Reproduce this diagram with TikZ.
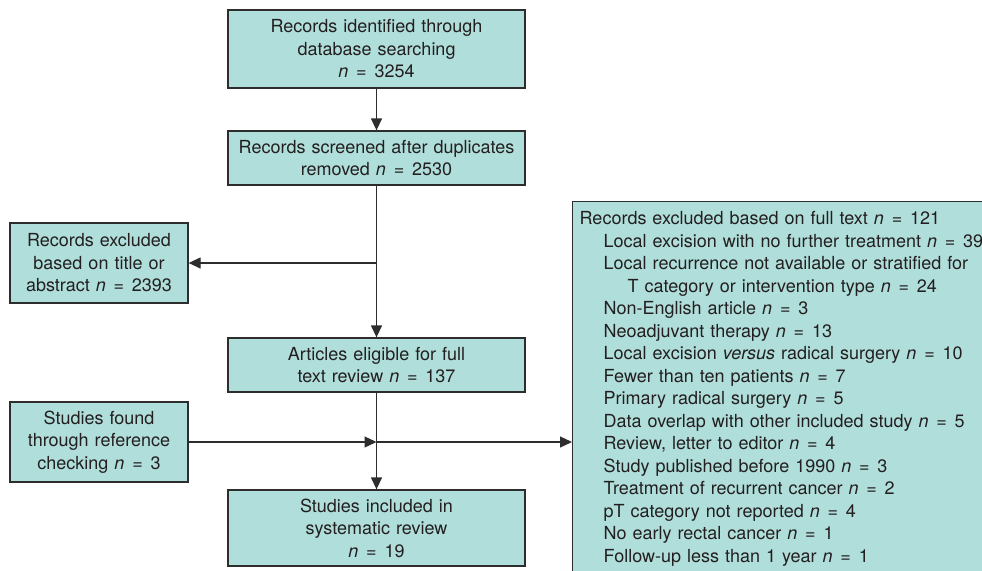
\documentclass[tikz,border=0pt]{standalone}
\usepackage{fontspec}
\setmainfont{TeX Gyre Heros}
\usetikzlibrary{shapes, arrows.meta, positioning}
\definecolor{boxfill}{RGB}{176,222,218}
\definecolor{boxline}{RGB}{45,45,45}
\definecolor{textcol}{RGB}{35,31,32}
\tikzstyle{block}=[draw=boxline,fill=boxfill,rectangle,line width=1.3pt,align=center,inner xsep=4pt]
\tikzstyle{mainblock}=[block,text width=289pt]
\tikzstyle{sideblock}=[block,text width=170pt,minimum height=80pt]
\tikzstyle{line}=[draw=boxline,line width=1.3pt]
\tikzstyle{every node}=[font=\fontsize{18}{22.5}\selectfont,text=textcol]
\newcommand{\nn}{\textit{n}}
\newcommand{\eq}{\hspace{0.1em}=\hspace{0.1em}}
\newcommand{\ind}{\hspace*{24pt}}

\begin{document}
\begin{tikzpicture}[>={Triangle[length=12pt,width=11pt]}, x=1pt, y=-1pt]
    \useasboundingbox (0,0) rectangle (982,570);
    \node[mainblock, minimum height=78pt] (ident) at (376.5,49) {Records identified through\\database searching\\\nn{} \eq{} 3254};
    \node[mainblock, minimum height=54pt, below of=ident, node distance=109pt] (screen) {Records screened after duplicates\\removed \nn{} \eq{} 2530};
    \node[mainblock, minimum height=54pt, below of=screen, node distance=207pt] (elig) {Articles eligible for full\\text review \nn{} \eq{} 137};
    \node[mainblock, minimum height=76pt, below of=elig, node distance=163pt] (incl) {Studies included in\\systematic review\\\nn{} \eq{} 19};
    \coordinate[below of=screen, node distance=105pt] (split);
    \coordinate[below of=elig, node distance=77pt] (join);
    \node[sideblock, left of=split, node distance=277.5pt] (extitle) {Records excluded\\based on title or\\abstract \nn{} \eq{} 2393};
    \node[sideblock, left of=join, node distance=277.5pt] (refs) {Studies found\\through reference\\checking \nn{} \eq{} 3};
    % box runs past the right and bottom edges
    \node[block, align=left, anchor=north west, inner xsep=7pt, inner ysep=5pt, text width=470pt, minimum height=420pt, text depth=0pt] (exfull) at (572,201) {\vbox to 400pt{\hsize=470pt\parindent=0pt\baselineskip=22.5pt Records excluded based on full text \nn{} \eq{} 121\\
        \ind Local excision with no further treatment \nn{} \eq{} 39\\
        \ind Local recurrence not available or stratified for\\
        \ind\ind T category or intervention type \nn{} \eq{} 24\\
        \ind Non-English article \nn{} \eq{} 3\\
        \ind Neoadjuvant therapy \nn{} \eq{} 13\\
        \ind Local excision \textit{versus} radical surgery \nn{} \eq{} 10\\
        \ind Fewer than ten patients \nn{} \eq{} 7\\
        \ind Primary radical surgery \nn{} \eq{} 5\\
        \ind Data overlap with other included study \nn{} \eq{} 5\\
        \ind Review, letter to editor \nn{} \eq{} 4\\
        \ind Study published before 1990 \nn{} \eq{} 3\\
        \ind Treatment of recurrent cancer \nn{} \eq{} 2\\
        \ind pT category not reported \nn{} \eq{} 4\\
        \ind No early rectal cancer \nn{} \eq{} 1\\
        \ind Follow-up less than 1 year \nn{} \eq{} 1\vfill}};
    \draw[line,->] (ident) -- (screen);
    \draw[line,->] (screen) -- (elig);
    \draw[line,->] (split) -- (extitle);
    \draw[line,->] (elig) -- (incl);
    \draw[line,->] (refs) -- (join);
    \draw[line,->] (join) -- (join -| exfull.west);
\end{tikzpicture}
\end{document}
